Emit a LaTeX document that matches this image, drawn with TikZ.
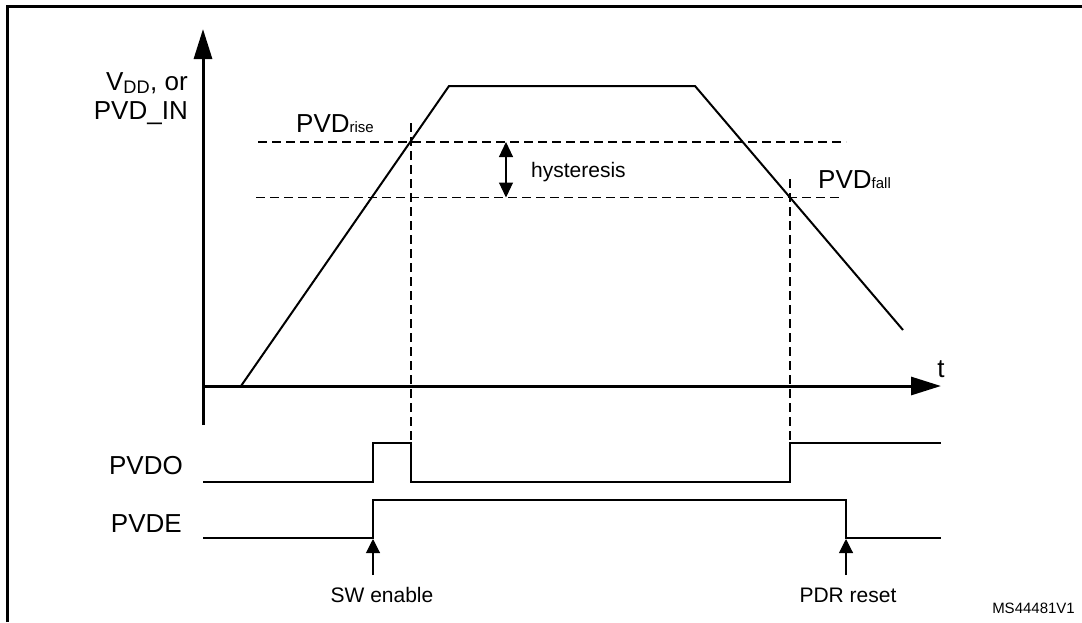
\documentclass[tikz,border=0pt]{standalone}
\usepackage{fontspec}
\setmainfont{Liberation Sans}
\usetikzlibrary{arrows.meta}

\tikzset{
  axis/.style={line width=3pt, -{Triangle[length=30pt,width=18pt]}},
  wave/.style={line width=2pt},
  guide/.style={line width=1.2pt, dash pattern=on 9pt off 5pt},
  marker/.style={line width=1.1pt, -{Triangle[length=14pt,width=14pt]}},
  bigtext/.style={inner sep=0pt, font=\fontsize{26}{28}\selectfont},
  smalltext/.style={inner sep=0pt, font=\fontsize{21}{24}\selectfont},
}
\newcommand{\lvl}[1]{{\fontsize{15}{15}\selectfont #1}}

\begin{document}
\begin{tikzpicture}[x=1pt, y=-1pt]
    \useasboundingbox (0,0) rectangle (1082,622);
    \draw[line width=3pt] (7,622) -- (7,6) -- (1082,6);

    % axes
    \draw[axis] (203,425) -- (203,29);
    \draw[axis] (203,386) -- (941,386);
    \node[bigtext, anchor=base east] (vdd) at (188,90) {V\textsubscript{DD}, or};
    \node[bigtext, anchor=base east] (pvdin) at (188,119) {PVD\_IN};
    \node[bigtext, anchor=base] (t) at (941,377) {t};

    % supply ramp
    \draw[wave] (241,386) -- (449,86) -- (695,86) -- (903,330);

    % thresholds
    \draw[guide] (258,142) -- (846,142);
    \draw[guide] (256,197.5) -- (843,197.5);
    \draw[guide] (411,123) -- (411,443);
    \draw[guide] (790,179) -- (790,443);
    \draw[line width=1.1pt, {Triangle[length=15pt,width=14pt]}-{Triangle[length=15pt,width=14pt]}] (506,142) -- (506,197.5);
    \node[bigtext, anchor=base west] (rise) at (296,132) {PVD\lvl{rise}};
    \node[bigtext, anchor=base west] (fall) at (818,188) {PVD\lvl{fall}};
    \node[smalltext, anchor=base west] (hyst) at (531,177) {hysteresis};

    % outputs
    \draw[wave] (203,482) -- (373,482) -- (373,443) -- (411,443) -- (411,482)
        -- (790,482) -- (790,443) -- (941,443);
    \draw[wave] (203,538) -- (373,538) -- (373,500) -- (846,500) -- (846,538) -- (941,538);
    \node[bigtext, anchor=base east] (pvdo) at (183,474) {PVDO};
    \node[bigtext, anchor=base east] (pvde) at (182,532) {PVDE};

    % events
    \draw[marker] (373,575) -- (373,539);
    \draw[marker] (846,575) -- (846,539);
    \node[smalltext, anchor=base] (swen) at (382,602) {SW enable};
    \node[smalltext, anchor=base] (pdr) at (848,602) {PDR reset};
    \node[inner sep=0pt, anchor=base east, font=\fontsize{15}{17}\selectfont] (ref) at (1075,613) {MS44481V1};
\end{tikzpicture}
\end{document}
